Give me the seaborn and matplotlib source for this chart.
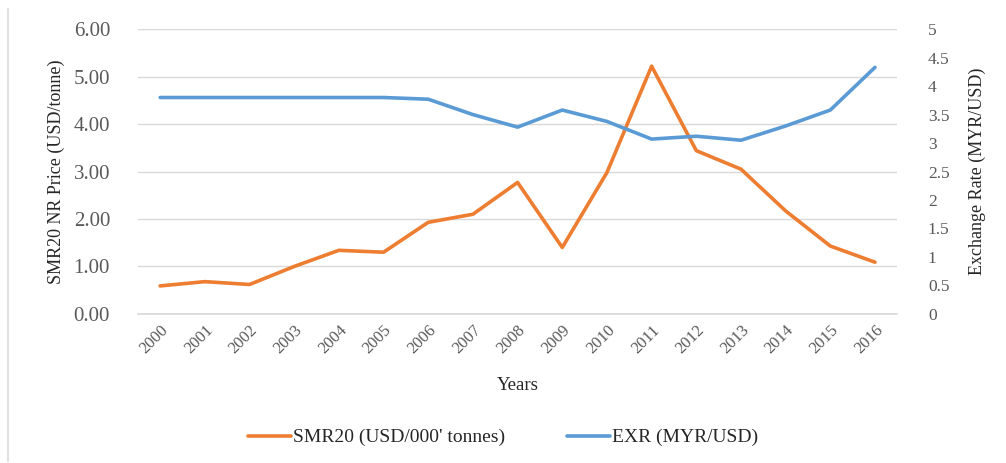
import matplotlib
matplotlib.use("Agg")
import matplotlib.pyplot as plt
import seaborn as sns
import pandas as pd
from matplotlib.lines import Line2D

years = [str(y) for y in range(2000, 2017)]
smr20 = [0.59, 0.68, 0.62, 1.00, 1.34, 1.30, 1.93, 2.10, 2.77, 1.40, 2.98, 5.22, 3.44, 3.05, 2.17, 1.43, 1.09]
exr = [3.80, 3.80, 3.80, 3.80, 3.80, 3.80, 3.77, 3.50, 3.28, 3.58, 3.38, 3.07, 3.12, 3.05, 3.30, 3.58, 4.33]
left_ticks = [0, 1, 2, 3, 4, 5, 6]
right_ticks = [0, 0.5, 1, 1.5, 2, 2.5, 3, 3.5, 4, 4.5, 5]

df = pd.DataFrame({"Year": years, "SMR20": smr20, "EXR": exr})
df["x"] = range(len(years))

sns.set_theme(style="white")
plt.rcParams['font.family'] = ['Liberation Serif', 'DejaVu Serif']

ORANGE = "#ED7D31"
BLUE = "#5B9BD5"
GRID = "#D9D9D9"
TICKC = "#595959"

fig = plt.figure(figsize=(10.06, 4.63), dpi=100)
ax = fig.add_axes([0.137, 0.322, 0.755, 0.615])
ax2 = ax.twinx()

sns.lineplot(data=df, x="x", y="SMR20", ax=ax, color=ORANGE, linewidth=2.6, legend=False)
sns.lineplot(data=df, x="x", y="EXR", ax=ax2, color=BLUE, linewidth=2.6, legend=False)

ax.set_ylim(0, 6)
ax2.set_ylim(0, 5)
ax.set_xlim(-0.5, len(years) - 0.5)
ax.set_yticks(left_ticks)
ax.set_yticklabels([f"{v:.2f}" for v in left_ticks], fontsize=15, color=TICKC)
ax2.set_yticks(right_ticks)
ax2.set_yticklabels([f"{v:g}" for v in right_ticks], fontsize=12.5, color=TICKC)
ax.set_xticks(df["x"])
ax.set_xticklabels(years, rotation=45, ha="right", rotation_mode="anchor", fontsize=12, color=TICKC)

ax.yaxis.grid(True, color=GRID, linewidth=1)
ax.xaxis.grid(False)
ax2.grid(False)
for a in (ax, ax2):
    for s in a.spines.values():
        s.set_visible(False)
    a.tick_params(length=0)
ax.spines["bottom"].set_visible(True)
ax.spines["bottom"].set_color(GRID)
ax.tick_params(axis="y", pad=20)
ax2.tick_params(axis="y", pad=22)
ax.tick_params(axis="x", pad=6)

ax.set_xlabel("Years", fontsize=13.5, color="#262626", labelpad=14)
ax.set_ylabel("SMR20 NR Price (USD/tonne)", fontsize=13, color="#262626", labelpad=6)
ax2.set_ylabel("Exchange Rate (MYR/USD)", fontsize=13, color="#262626", labelpad=14)

handles = [Line2D([], [], color=ORANGE, linewidth=2.6),
           Line2D([], [], color=BLUE, linewidth=2.6)]
fig.legend(handles, ["SMR20 (USD/000' tonnes)", "EXR (MYR/USD)"], loc="center",
           bbox_to_anchor=(0.5, 0.055), ncol=2, frameon=False, fontsize=14,
           handlelength=2.2, handletextpad=0.1, columnspacing=3.2)

fig.add_artist(Line2D([0.008, 0.008], [0.005, 0.98], color="#E0E0E0", linewidth=1.5))

fig.savefig("out.png", dpi=100)
